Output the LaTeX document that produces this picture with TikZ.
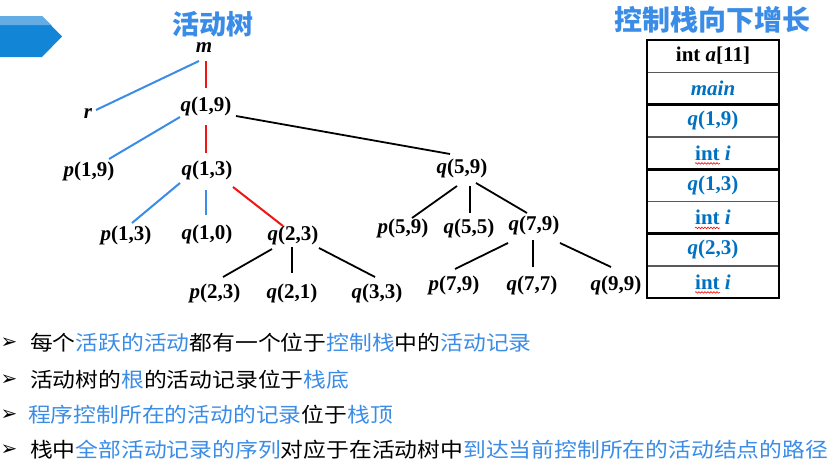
\documentclass[tikz,border=0pt]{standalone}
\usepackage{fontspec}
\usepackage{graphicx}
\setmainfont{Liberation Serif}
\newfontfamily\cjk{Noto Sans CJK SC}
\newfontfamily\djv{DejaVu Sans}
\usetikzlibrary{calc,decorations.pathmorphing}
\definecolor{tblue}{RGB}{58,140,230}
\definecolor{sblue}{RGB}{0,112,192}
\definecolor{tred}{RGB}{240,20,20}
\definecolor{bannerblue}{RGB}{18,133,214}
\definecolor{bannerlight}{RGB}{100,172,228}
\definecolor{sepgray}{RGB}{90,90,90}
\begin{document}
\begin{tikzpicture}[x=1pt,y=-1pt,
  lbl/.style={inner sep=0pt, font=\fontsize{21}{25}\selectfont\bfseries},
  rl/.style={draw=tred, line width=2pt},
  bl/.style={draw=tblue, line width=2pt},
  kl/.style={draw=black, line width=1.8pt},
  cell/.style={minimum width=132pt, minimum height=32.25pt, inner sep=0pt, font=\fontsize{21}{25}\selectfont\bfseries},
  bul/.style={anchor=west, inner sep=0pt, font=\cjk\fontsize{20.5}{24}\selectfont},
  bulmark/.style={inner sep=0pt, font=\djv\fontsize{20}{20}\selectfont},
  ttl/.style={inner sep=0pt, text=tblue, font=\cjk\bfseries\fontsize{27}{30}\selectfont},
  thinsep/.style={draw=sepgray, line width=1.3pt},
  thicksep/.style={draw=black, line width=3pt},
  wavy/.style={draw=red, line width=0.6pt, decorate, decoration={snake, amplitude=0.8pt, segment length=3pt}}
]
\useasboundingbox (0,0) rectangle (834,466);

% banner
\fill[bannerblue] (0,16) -- (42,16) -- (62,36.5) -- (42,57) -- (0,57) -- cycle;
\fill[bannerlight] (0,16) -- (42,16) -- (51,25) -- (0,25) -- cycle;

% titles
\node[ttl] (t1) at (213,24) {活动树};
\node[ttl, font=\cjk\bfseries\fontsize{28}{30}\selectfont] (t2) at (712,20) {控制栈向下增长};

% tree nodes
\node[lbl] (m)   at (204,48)  {\textit{m}};
\node[lbl] (q19) at (206,106) {\textit{q}(1,9)};
\node[lbl] (r)   at (88,114)  {\textit{r}};
\node[lbl] (p19) at (89,171)  {\textit{p}(1,9)};
\node[lbl] (q13) at (207,170) {\textit{q}(1,3)};
\node[lbl] (q59) at (462,168) {\textit{q}(5,9)};
\node[lbl] (p13) at (126,235) {\textit{p}(1,3)};
\node[lbl] (q10) at (207,234) {\textit{q}(1,0)};
\node[lbl] (q23) at (293,235) {\textit{q}(2,3)};
\node[lbl] (p59) at (403,228) {\textit{p}(5,9)};
\node[lbl] (q55) at (469,228) {\textit{q}(5,5)};
\node[lbl] (q79) at (534,225) {\textit{q}(7,9)};
\node[lbl] (p23) at (215,293) {\textit{p}(2,3)};
\node[lbl] (q21) at (292,293) {\textit{q}(2,1)};
\node[lbl] (q33) at (377,293) {\textit{q}(3,3)};
\node[lbl] (p79) at (454,285) {\textit{p}(7,9)};
\node[lbl] (q77) at (532,285) {\textit{q}(7,7)};
\node[lbl] (q99) at (616,285) {\textit{q}(9,9)};

% tree connectors
\draw[rl] ($(m)+(2,13)$) -- ($(q19)+(0,-18)$);
\draw[bl] ($(m)+(-5,13)$) -- ($(r)+(8,-4)$);
\draw[bl] ($(q19)+(-26,11)$) -- ($(p19)+(20,-12)$);
\draw[rl] ($(q19)+(0,19)$) -- ($(q13)+(-1,-17)$);
\draw[kl] ($(q19)+(30,10)$) -- ($(q59)+(-12,-14)$);
\draw[bl] ($(q13)+(-27,13)$) -- ($(p13)+(6,-12)$);
\draw[bl] ($(q13)+(-1,20)$) -- ($(q10)+(-1,-19)$);
\draw[rl] ($(q13)+(26,17)$) -- ($(q23)+(-10,-9)$);
\draw[kl] ($(q23)+(-21,14)$) -- ($(p23)+(8,-16)$);
\draw[kl] ($(q23)+(-1,12)$) -- ($(q21)+(0,-20)$);
\draw[kl] ($(q23)+(26,13)$) -- ($(q33)+(-2,-16)$);
\draw[kl] ($(q59)+(-5,18)$) -- ($(p59)+(9,-10)$);
\draw[kl] ($(q59)+(8,18)$) -- ($(q55)+(1,-15)$);
\draw[kl] ($(q59)+(14,15)$) -- ($(q79)+(-7,-12)$);
\draw[kl] ($(q79)+(-26,18)$) -- ($(p79)+(1,-16)$);
\draw[kl] ($(q79)+(-1,15)$) -- ($(q77)+(1,-18)$);
\draw[kl] ($(q79)+(26,18)$) -- ($(q99)+(-5,-18)$);

% stack
\node[cell] (s1) at (713,56.1)  {int \textit{a}[11]};
\node[cell, text=sblue] (s2) at (713,88.4)  {\textit{main}};
\node[cell, text=sblue] (s3) at (713,120.6) {\textit{q}(1,9)};
\node[cell, text=sblue] (s4) at (713,152.9) {int \textit{i}};
\node[cell, text=sblue] (s5) at (713,185.1) {\textit{q}(1,3)};
\node[cell, text=sblue] (s6) at (713,217.4) {int \textit{i}};
\node[cell, text=sblue] (s7) at (713,249.6) {\textit{q}(2,3)};
\node[cell, text=sblue] (s8) at (713,281.9) {int \textit{i}};
\draw[thinsep] (s1.south west) -- (s1.south east);
\draw[thinsep] (s3.south west) -- (s3.south east);
\draw[thinsep] (s5.south west) -- (s5.south east);
\draw[thinsep] (s7.south west) -- (s7.south east);
\draw[thicksep] (s2.south west) -- (s2.south east);
\draw[thicksep] (s4.south west) -- (s4.south east);
\draw[thicksep] (s6.south west) -- (s6.south east);
\draw[draw=black, line width=2.5pt] (s1.north west) rectangle (s8.south east);
\draw[wavy] ($(s4)+(-18,10.5)$) -- ($(s4)+(7,10.5)$);
\draw[wavy] ($(s6)+(-18,10.5)$) -- ($(s6)+(7,10.5)$);
\draw[wavy] ($(s8)+(-18,10.5)$) -- ($(s8)+(7,10.5)$);

% bullets
\node[bulmark] (a1) at (9,343) {➢};
\node[bulmark] (a2) at (9,380) {➢};
\node[bulmark] (a3) at (9,415) {➢};
\node[bulmark] (a4) at (9,450) {➢};
\node[bul] (b1) at (30,343) {\scalebox{1.112}[1]{每个\textcolor{tblue}{活跃的活动}都有一个位于\textcolor{tblue}{控制栈}中的\textcolor{tblue}{活动记录}}};
\node[bul] (b2) at (30,380) {\scalebox{1.112}[1]{活动树的\textcolor{tblue}{根}的活动记录位于\textcolor{tblue}{栈底}}};
\node[bul] (b3) at (28,415) {\scalebox{1.112}[1]{\textcolor{tblue}{程序控制所在的活动的记录}位于\textcolor{tblue}{栈顶}}};
\node[bul] (b4) at (30,450) {\scalebox{1.112}[1]{栈中\textcolor{tblue}{全部活动记录的序列}对应于在活动树中\textcolor{tblue}{到达当前控制所在的活动结点的路径}}};
\end{tikzpicture}
\end{document}
